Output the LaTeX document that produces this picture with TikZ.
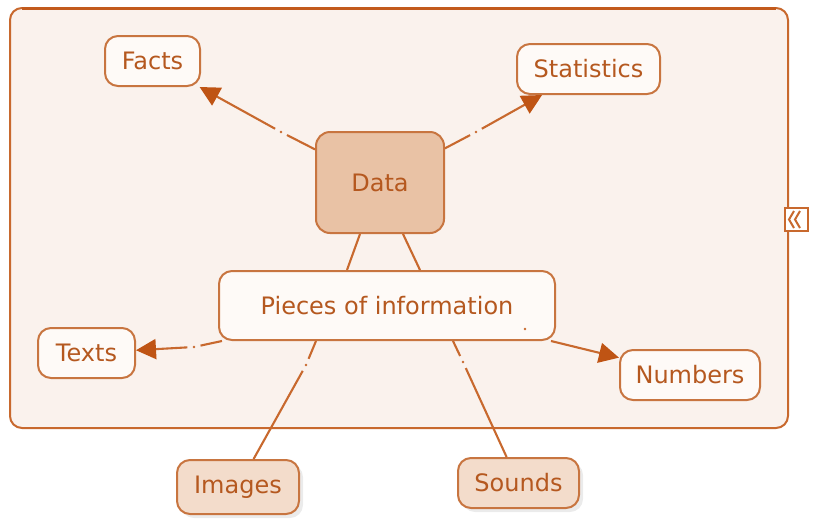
\documentclass[tikz,border=0pt]{standalone}
\usepackage{fontspec}
\setmainfont{DejaVu Sans}
\usetikzlibrary{arrows.meta,shadows}
\definecolor{edgec}{HTML}{C8692E}
\definecolor{topc}{HTML}{C25A1C}
\definecolor{txtc}{HTML}{B5581F}
\definecolor{arrc}{HTML}{BF5414}
\definecolor{bgc}{HTML}{FAF2ED}
\definecolor{datac}{HTML}{E9C2A5}
\definecolor{lightc}{HTML}{F3DCCB}
\definecolor{bordc}{HTML}{C87540}
\definecolor{nodefill}{HTML}{FEFAF7}
\tikzset{
  concept/.style={draw=bordc, line width=2pt, rounded corners=13pt, fill=nodefill,
    text=txtc, font=\fontsize{24}{28}\selectfont, inner sep=0pt, align=center},
  gapnode/.style={circle, inner sep=0pt, minimum size=13pt},
  link/.style={draw=edgec, line width=2.1pt},
  arr/.style={link, -{Triangle[length=20pt,width=20pt,fill=arrc,color=arrc]}},
  shad/.style={drop shadow={shadow xshift=4pt, shadow yshift=-4pt, opacity=0.22, fill=gray!70}},
}
\begin{document}
\begin{tikzpicture}[x=1pt,y=-1pt]
\useasboundingbox (0,0) rectangle (828,520);
% container
\draw[draw=edgec, line width=2pt, fill=bgc, rounded corners=12pt] (10,8) rectangle (788,428);
\draw[topc, line width=3pt] (22,8) -- (776,8);
% icon
\draw[draw=edgec, line width=1.5pt, fill=white] (785,208) rectangle (808,231);
\draw[edgec, line width=2pt, line join=miter] (794,211) -- (789,219.5) -- (794,228);
\draw[edgec, line width=2pt, line join=miter] (800,211) -- (795,219.5) -- (800,228);
% nodes
\node[concept, minimum width=95pt, minimum height=50pt] (facts) at (152.5,61) {Facts};
\node[concept, minimum width=143pt, minimum height=50pt] (stats) at (588.5,69) {Statistics};
\node[concept, fill=datac, rounded corners=14pt, minimum width=128pt, minimum height=101pt] (data) at (380,182.5) {Data};
\node[concept, minimum width=336pt, minimum height=69pt] (pieces) at (387,305.5) {Pieces of information};
\node[concept, minimum width=97pt, minimum height=50pt] (texts) at (86.5,353) {Texts};
\node[concept, minimum width=140pt, minimum height=50pt] (numbers) at (690,375) {Numbers};
\node[concept, fill=lightc, shad, minimum width=122pt, minimum height=54pt] (images) at (238,487) {Images};
\node[concept, fill=lightc, shad, minimum width=121pt, minimum height=50pt] (sounds) at (518.5,483) {Sounds};
% gap points
\node[gapnode] (g1) at (281,132) {};
\node[gapnode] (g2) at (476,132) {};
\node[gapnode] (g3) at (194,347) {};
\node[gapnode] (g5) at (306,365) {};
\node[gapnode] (g6) at (463,362) {};
\coordinate (g4) at (525,329);
\foreach \g in {g1,g2,g3,g4,g5,g6} \fill[edgec] (\g) circle (1.4pt);
% connectors
\draw[link] (data) -- (g1);
\draw[arr] (g1) -- (facts);
\draw[link] (data) -- (g2);
\draw[arr] (g2) -- (stats);
\draw[link] ([xshift=-20pt]data.south) -- ([xshift=-40pt]pieces.north);
\draw[link] ([xshift=23pt]data.south) -- ([xshift=33pt]pieces.north);
\draw[link] (pieces) -- (g3);
\draw[arr] (g3) -- (texts);
\draw[arr] ([xshift=-5pt]pieces.south east) -- (numbers);
\draw[link] ([xshift=-71pt]pieces.south) -- (g5);
\draw[link] (g5) -- (images);
\draw[link] ([xshift=66pt]pieces.south) -- (g6);
\draw[link] (g6) -- (sounds);
\end{tikzpicture}
\end{document}
